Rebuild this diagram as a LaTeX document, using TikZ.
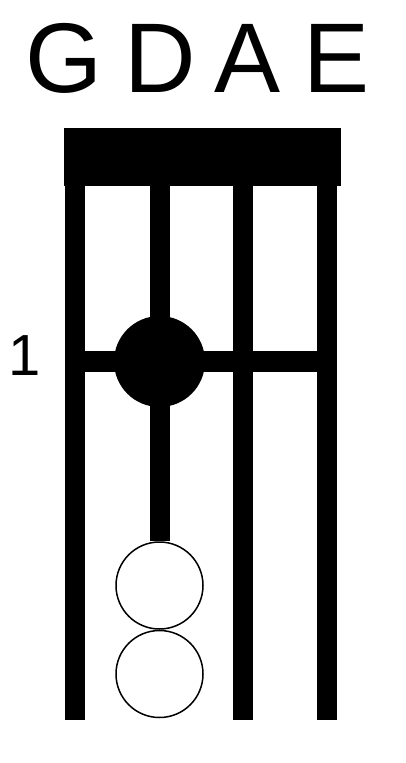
\documentclass[tikz,border=0pt]{standalone}
\usepackage{fontspec}
\setmainfont{Liberation Sans}
\usetikzlibrary{positioning}

\begin{document}
\begin{tikzpicture}[x=1pt, y=-1pt,
    stringline/.style={line width=20pt},
    namenode/.style={font=\fontsize{99}{99}\selectfont, anchor=base, inner sep=0pt},
    fingerdot/.style={circle, fill=black, minimum size=91pt, inner sep=0pt},
    opendot/.style={circle, draw=black, fill=white, line width=1.5pt, minimum size=87pt, inner sep=0pt}]
    \useasboundingbox (0,0) rectangle (405,763);

    % String names
    \node[namenode] (g) at (64,92.5) {G};
    \node[namenode] (d) at (160,92.5) {D};
    \node[namenode] (a) at (247.5,92.5) {A};
    \node[namenode] (e) at (336.5,92.5) {E};

    % Nut
    \fill (64,128) rectangle (341,186);

    % String ends
    \coordinate (gtop) at (75,186);
    \coordinate (dtop) at (159.5,186);
    \coordinate (atop) at (243,186);
    \coordinate (etop) at (327,186);
    \coordinate (gbot) at (75,720);
    \coordinate (abot) at (243,720);
    \coordinate (ebot) at (327,720);

    % Open notes
    \node[opendot] (open1) at (159.5,585.5) {};
    \node[opendot] (open2) at (159.5,674) {};

    % Draw strings
    \draw[stringline] (gtop) -- (gbot);
    \draw[stringline] (dtop) -- (open1.north);
    \draw[stringline] (atop) -- (abot);
    \draw[stringline] (etop) -- (ebot);

    % Fret
    \coordinate (fretl) at (75,361.5);
    \coordinate (fretr) at (327,361.5);
    \draw[line width=21pt] (fretl) -- (fretr);
    \node[font=\fontsize{58}{58}\selectfont, anchor=base, inner sep=0pt] (one) at (25,375) {1};

    % Fingered note
    \node[fingerdot] (dot) at (159.5,361.5) {};

\end{tikzpicture}
\end{document}
